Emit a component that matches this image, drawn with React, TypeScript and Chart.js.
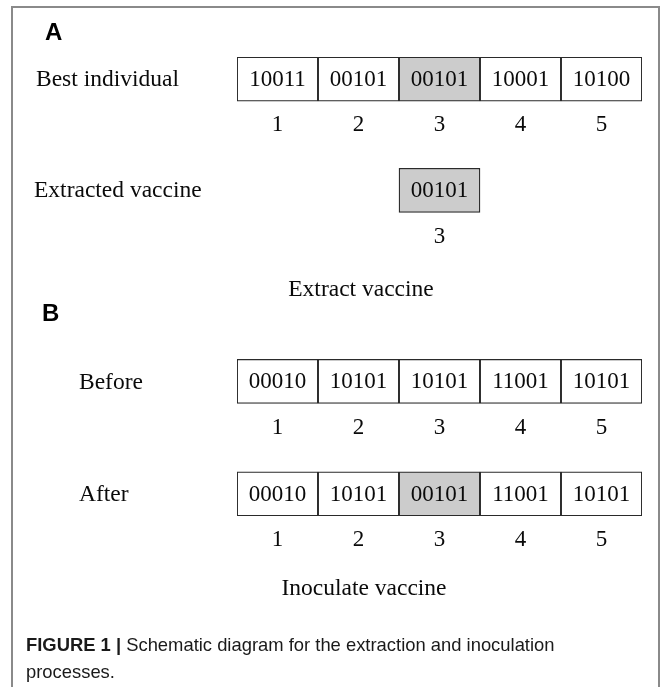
import React, { useEffect, useRef } from "react";
import { Chart, registerables } from "chart.js";

Chart.register(...registerables);

// ---- data ----
const POSITIONS = ["1", "2", "3", "4", "5"];
const BEST_INDIVIDUAL = ["10011", "00101", "00101", "10001", "10100"];
const EXTRACTED_VACCINE = [null, null, "00101", null, null];
const BEFORE = ["00010", "10101", "10101", "11001", "10101"];
const AFTER = ["00010", "10101", "00101", "11001", "10101"];
const VACCINE_POSITION = "3";
const ROW_LABELS = ["Best individual", "Extracted vaccine", "Before", "After"];
const PANEL_TITLES = ["Extract vaccine", "Inoculate vaccine"];
const CAPTION_BOLD = "FIGURE 1 |";
const CAPTION_LINE1 = " Schematic diagram for the extraction and inoculation";
const CAPTION_LINE2 = "processes.";

// ---- layout (not data) ----
const ROWS = [BEST_INDIVIDUAL, EXTRACTED_VACCINE, BEFORE, AFTER];
const ROW_TOP = [0, 2.52, 6.85, 9.4];
const ROW_LABEL_X = [36, 34, 79, 79];
const HIGHLIGHT_ROWS = [0, 1, 3];
const SERIF = '"Liberation Serif", "Times New Roman", Times, serif';
const SANS = '"Liberation Sans", Arial, Helvetica, sans-serif';

const figurePlugin = {
  id: "figure",
  beforeDraw(chart: any) {
    const ctx = chart.ctx;
    ctx.save();
    ctx.fillStyle = "#ffffff";
    ctx.fillRect(0, 0, chart.width, chart.height);
    ctx.strokeStyle = "#8a8a8a";
    ctx.lineWidth = 2;
    ctx.beginPath();
    ctx.moveTo(12, chart.height);
    ctx.lineTo(12, 7);
    ctx.lineTo(659, 7);
    ctx.lineTo(659, chart.height);
    ctx.stroke();
    ctx.restore();
  },
  afterDatasetsDraw(chart: any) {
    const ctx = chart.ctx;
    const ys = chart.scales.y;
    ctx.save();
    ctx.fillStyle = "#0a0a0a";
    ctx.textBaseline = "middle";
    ROWS.forEach((cells, di) => {
      const meta = chart.getDatasetMeta(di);
      meta.data.forEach((el: any, i: number) => {
        const v = cells[i];
        if (!v) return;
        const { x, y, base } = el.getProps(["x", "y", "base"], true);
        ctx.textAlign = "center";
        ctx.font = `23px ${SERIF}`;
        ctx.fillText(v, x, (y + base) / 2 + 1);
        ctx.fillText(POSITIONS[i], x, ys.getPixelForValue(ROW_TOP[di] + 1.55));
      });
      ctx.textAlign = "left";
      ctx.font = `23.5px ${SERIF}`;
      ctx.fillText(ROW_LABELS[di], ROW_LABEL_X[di], ys.getPixelForValue(ROW_TOP[di] + 0.5) + 1);
    });
    ctx.textAlign = "center";
    ctx.font = `23.5px ${SERIF}`;
    ctx.fillText(PANEL_TITLES[0], 361, ys.getPixelForValue(ROW_TOP[1] + 2.75));
    ctx.fillText(PANEL_TITLES[1], 364, ys.getPixelForValue(ROW_TOP[3] + 2.65));

    // panel letters
    ctx.textAlign = "left";
    ctx.fillStyle = "#000";
    ctx.font = `bold 24px ${SANS}`;
    ctx.fillText("A", 45, 33);
    ctx.fillText("B", 42, 314);

    // caption
    ctx.fillStyle = "#1a1a1a";
    ctx.font = `bold 18.4px ${SANS}`;
    ctx.fillText(CAPTION_BOLD, 26, 646);
    const bw = ctx.measureText(CAPTION_BOLD).width;
    ctx.font = `18.4px ${SANS}`;
    ctx.fillText(CAPTION_LINE1, 26 + bw, 646);
    ctx.fillText(CAPTION_LINE2, 26, 673);
    ctx.restore();
  },
};

export default function App() {
  const ref = useRef<HTMLCanvasElement | null>(null);
  useEffect(() => {
    if (!ref.current) return;
    const datasets = ROWS.map((cells, ri) => ({
      label: ROW_LABELS[ri],
      data: cells.map((c) => (c ? [ROW_TOP[ri], ROW_TOP[ri] + 1] : null)),
      backgroundColor: POSITIONS.map((p) =>
        HIGHLIGHT_ROWS.includes(ri) && p === VACCINE_POSITION ? "#cccccc" : "#ffffff"
      ),
      borderColor: "#2a2a2a",
      borderWidth: 1.3,
      borderSkipped: false,
      grouped: false,
      categoryPercentage: 1,
      barPercentage: 1,
    }));
    const chart = new Chart(ref.current, {
      type: "bar",
      data: { labels: POSITIONS, datasets: datasets as any },
      options: {
        animation: false,
        responsive: false,
        maintainAspectRatio: false,
        layout: { padding: { left: 237, right: 23, top: 57, bottom: 171 } },
        plugins: { legend: { display: false }, tooltip: { enabled: false } },
        scales: {
          x: { type: "category", display: false, offset: true, grid: { display: false } },
          y: { type: "linear", display: false, reverse: true, min: 0, max: 10.4 },
        },
      },
      plugins: [figurePlugin],
    });
    return () => chart.destroy();
  }, []);
  return (
    <div style={{ position: "fixed", left: 0, top: 0, width: 665, height: 687, background: "#fff" }}>
      <canvas ref={ref} width={665} height={687} style={{ width: 665, height: 687, display: "block" }} />
    </div>
  );
}
